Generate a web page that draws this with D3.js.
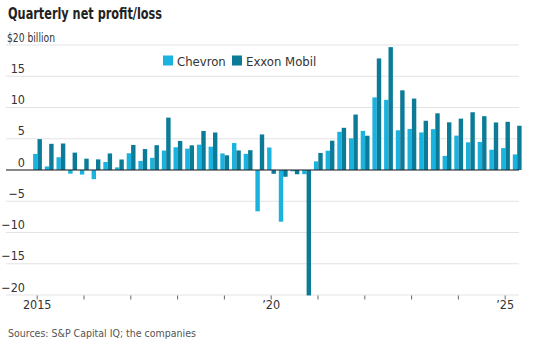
<!DOCTYPE html>
<html>
<head>
<meta charset="utf-8">
<script src="https://cdn.jsdelivr.net/npm/d3@7"></script>
<style>
  html, body { margin: 0; padding: 0; background: #fff; }
  svg { display: block; }
  text { font-family: "Liberation Sans Narrow", "DejaVu Sans Condensed", "Roboto", sans-serif; }
</style>
</head>
<body>
<svg id="chart" width="553" height="355"></svg>
<script>
// ---- Data (billions of USD) ----
const years = [2015, 2016, 2017, 2018, 2019, 2020, 2021, 2022, 2023, 2024, 2025];
const quarters = [
  "2015Q1","2015Q2","2015Q3","2015Q4",
  "2016Q1","2016Q2","2016Q3","2016Q4",
  "2017Q1","2017Q2","2017Q3","2017Q4",
  "2018Q1","2018Q2","2018Q3","2018Q4",
  "2019Q1","2019Q2","2019Q3","2019Q4",
  "2020Q1","2020Q2","2020Q3","2020Q4",
  "2021Q1","2021Q2","2021Q3","2021Q4",
  "2022Q1","2022Q2","2022Q3","2022Q4",
  "2023Q1","2023Q2","2023Q3","2023Q4",
  "2024Q1","2024Q2","2024Q3","2024Q4",
  "2025Q1","2025Q2"
];
const chevron = [
  2.57, 0.57, 2.04, -0.59,
  -0.73, -1.47, 1.28, 0.42,
  2.68, 1.45, 1.95, 3.11,
  3.64, 3.41, 4.05, 3.73,
  2.65, 4.31, 2.58, -6.61,
  3.60, -8.27, -0.21, -0.67,
  1.38, 3.08, 6.11, 5.06,
  6.26, 11.62, 11.23, 6.35,
  6.57, 6.01, 6.53, 2.26,
  5.50, 4.43, 4.49, 3.24,
  3.50, 2.49
];
const exxon = [
  4.94, 4.19, 4.24, 2.78,
  1.81, 1.70, 2.65, 1.68,
  4.01, 3.35, 3.97, 8.38,
  4.65, 3.95, 6.24, 6.00,
  2.35, 3.13, 3.17, 5.69,
  -0.61, -1.08, -0.68, -20.07,
  2.73, 4.69, 6.75, 8.87,
  5.48, 17.85, 19.66, 12.75,
  11.43, 7.88, 9.07, 7.63,
  8.22, 9.24, 8.61, 7.61,
  7.71, 7.08
];
const seriesNames = ["Chevron", "Exxon Mobil"];
const yTicks = [-20, -15, -10, -5, 0, 5, 10, 15, 20];
const xTickLabels = { 2015: "2015", 2020: "\u201920", 2025: "\u201925" };

// ---- Styling / layout ----
const colors = ["#1ab2de", "#0b7b98"];
const svg = d3.select("#chart");
const gridLeft = 6, gridRight = 519;

const x = d3.scaleLinear().domain([2015, 2025]).range([36.7, 504.7]);
const y = d3.scaleLinear().domain([-20, 20]).range([295, 45]);
const inner = d3.scaleBand().domain(seriesNames).range([-4.4, 4.4]).padding(0);

// Title
svg.append("text").attr("x", 8).attr("y", 18.5)
  .attr("font-size", 16).attr("font-weight", "bold").attr("fill", "#222")
  .attr("textLength", 154).attr("lengthAdjust", "spacingAndGlyphs")
  .text("Quarterly net profit/loss");

// Gridlines
svg.append("g").selectAll("line").data(yTicks).join("line")
  .attr("x1", gridLeft).attr("x2", gridRight)
  .attr("y1", d => y(d)).attr("y2", d => y(d))
  .attr("stroke", "#e3e3e3").attr("stroke-width", 1);

// Y labels
svg.append("g").selectAll("text").data(yTicks).join("text")
  .attr("x", d => d === 20 ? 7 : 25)
  .attr("y", d => y(d) - 3.5)
  .attr("text-anchor", d => d === 20 ? "start" : "end")
  .attr("font-size", 12.5).attr("fill", "#333")
  .each(function(d) { if (d === 20) d3.select(this).attr("textLength", 48).attr("lengthAdjust", "spacingAndGlyphs"); })
  .text(d => d === 20 ? "$20 billion" : (d < 0 ? "\u2212" + Math.abs(d) : d));

// Bars
const rows = quarters.map((q, i) => ({
  t: +q.slice(0, 4) + (+q.slice(5) - 1) / 4,
  vals: [chevron[i], exxon[i]]
}));
const gBars = svg.append("g");
rows.forEach(r => {
  r.vals.forEach((v, k) => {
    gBars.append("rect")
      .attr("x", x(r.t) + 0.8 + inner(seriesNames[k]))
      .attr("width", inner.bandwidth())
      .attr("y", y(Math.max(0, v)))
      .attr("height", Math.abs(y(v) - y(0)))
      .attr("fill", colors[k]);
  });
});

// Zero line
svg.append("line").attr("x1", gridLeft).attr("x2", gridRight)
  .attr("y1", y(0)).attr("y2", y(0)).attr("stroke", "#222").attr("stroke-width", 1.2);

// X axis ticks
const xAxis = d3.axisBottom(x).tickValues(years).tickSize(4)
  .tickFormat(d => xTickLabels[d] || "");
const gx = svg.append("g").attr("transform", `translate(0,${y(-20) + 0.5})`).call(xAxis);
gx.select(".domain").remove();
gx.selectAll(".tick line").attr("stroke", "#666");
gx.selectAll(".tick text").attr("font-size", 12.5).attr("fill", "#333")
  .attr("font-family", null).attr("dy", "0.55em");

// Legend
const legend = svg.append("g");
const lx = [163, 232];
seriesNames.forEach((n, k) => {
  legend.append("rect").attr("x", lx[k]).attr("y", 55.5).attr("width", 10).attr("height", 10)
    .attr("fill", colors[k]);
  legend.append("text").attr("x", lx[k] + 14).attr("y", 65.5)
    .attr("font-size", 13).attr("fill", "#333").text(n);
});

// Source
svg.append("text").attr("x", 8).attr("y", 337)
  .attr("font-size", 10.5).attr("fill", "#555")
  .text("Sources: S&P Capital IQ; the companies");
</script>
</body>
</html>
